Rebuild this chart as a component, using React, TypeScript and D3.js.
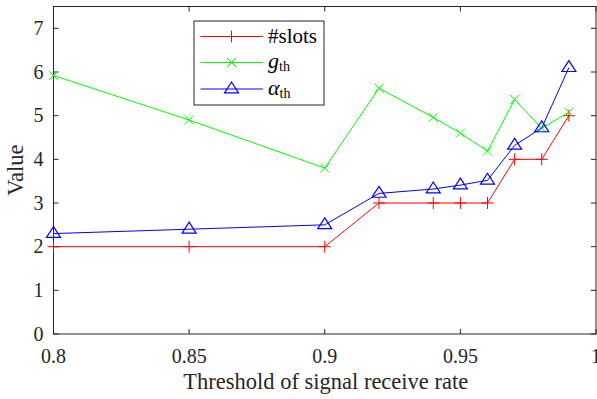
import React from "react";
import * as d3 from "d3";

const thresholds = [0.8, 0.85, 0.9, 0.92, 0.94, 0.95, 0.96, 0.97, 0.98, 0.99];
const slots = [2, 2, 2, 3, 3, 3, 3, 4, 4, 5];
const gTh = [5.92, 4.9, 3.8, 5.63, 4.96, 4.6, 4.19, 5.37, 4.71, 5.08];
const alphaTh = [2.3, 2.4, 2.5, 3.22, 3.32, 3.41, 3.52, 4.32, 4.72, 6.1];
const xTicks = [0.8, 0.85, 0.9, 0.95, 1];
const yTicks = [0, 1, 2, 3, 4, 5, 6, 7];

const W = 597, H = 399;
const M = { left: 53.5, right: 596, top: 6.5, bottom: 334 };
const FONT = '"Liberation Serif", "Times New Roman", "DejaVu Serif", serif';
const AX = "#262626";

const x = d3.scaleLinear().domain([0.8, 1]).range([M.left, M.right]);
const y = d3.scaleLinear().domain([0, 7.5]).range([M.bottom, M.top]);

const line = d3.line<number[]>();

function Plus({ cx, cy, c }: { cx: number; cy: number; c: string }) {
  const s = 6;
  return <path d={`M${cx - s},${cy}H${cx + s}M${cx},${cy - s}V${cy + s}`} stroke={c} strokeWidth={1} fill="none" />;
}
function Cross({ cx, cy, c }: { cx: number; cy: number; c: string }) {
  const s = 4.5;
  return <path d={`M${cx - s},${cy - s}L${cx + s},${cy + s}M${cx - s},${cy + s}L${cx + s},${cy - s}`} stroke={c} strokeWidth={1} fill="none" />;
}
function Tri({ cx, cy, c }: { cx: number; cy: number; c: string }) {
  const s = 7;
  return <path d={`M${cx},${cy - s}L${cx + s},${cy + s * 0.55}L${cx - s},${cy + s * 0.55}Z`} stroke={c} strokeWidth={1.2} fill="none" />;
}

const ts = { fontFamily: FONT };

export default function App() {
  const series = [
    { vals: slots, c: "#ff0000", M: Plus },
    { vals: gTh, c: "#00ff00", M: Cross },
    { vals: alphaTh, c: "#0000ff", M: Tri },
  ];
  const lx0 = 194, ly0 = 21, lw = 130, lh = 84;
  const rows = [36.5, 62.5, 89];
  return (
    <svg width={W} height={H} style={{ position: "absolute", left: 0, top: 0, background: "#fff", fontFamily: FONT }}>
      <rect x={0} y={0} width={W} height={H} fill="#fff" />
      <rect x={M.left} y={M.top} width={M.right - M.left} height={M.bottom - M.top} fill="none" stroke={AX} strokeWidth={1} />
      {xTicks.map((t) => (
        <g key={"x" + t}>
          <line x1={x(t)} x2={x(t)} y1={M.bottom} y2={M.bottom - 5} stroke={AX} />
          <line x1={x(t)} x2={x(t)} y1={M.top} y2={M.top + 5} stroke={AX} />
          <text x={x(t)} y={363} textAnchor="middle" fontSize={20} fill={AX} style={ts}>{String(t)}</text>
        </g>
      ))}
      {yTicks.map((t) => (
        <g key={"y" + t}>
          <line x1={M.left} x2={M.left + 5} y1={y(t)} y2={y(t)} stroke={AX} />
          <line x1={M.right} x2={M.right - 5} y1={y(t)} y2={y(t)} stroke={AX} />
          <text x={43.5} y={y(t) + 6.5} textAnchor="end" fontSize={20} fill={AX} style={ts}>{t}</text>
        </g>
      ))}
      <text x={(M.left + M.right) / 2 + 1} y={389} textAnchor="middle" fontSize={22.5} fill={AX} style={ts}>Threshold of signal receive rate</text>
      <text transform={`translate(23,${(M.top + M.bottom) / 2}) rotate(-90)`} textAnchor="middle" fontSize={22.5} fill={AX} style={ts}>Value</text>
      {series.map((s, i) => (
        <g key={i}>
          <path d={line(s.vals.map((v, j) => [x(thresholds[j]), y(v)])) || ""} stroke={s.c} strokeWidth={1} fill="none" />
          {s.vals.map((v, j) => (
            <s.M key={j} cx={x(thresholds[j])} cy={y(v)} c={s.c} />
          ))}
        </g>
      ))}
      <rect x={lx0} y={ly0} width={lw} height={lh} fill="#fff" stroke={AX} strokeWidth={1} />
      {series.map((s, i) => (
        <g key={"l" + i}>
          <line x1={200.5} x2={263} y1={rows[i]} y2={rows[i]} stroke={s.c} strokeWidth={1} />
          <s.M cx={231.5} cy={rows[i]} c={s.c} />
        </g>
      ))}
      <text x={268} y={rows[0] + 6.5} fontSize={21} fill="#000" style={ts}>#slots</text>
      <text x={268} y={rows[1] + 5.5} fontSize={21} fill="#000" style={ts}>
        <tspan fontStyle="italic" fontSize={22}>g</tspan>
        <tspan fontSize={14} dy={3}>th</tspan>
      </text>
      <text x={268} y={rows[2] + 5.5} fontSize={21} fill="#000" style={ts}>
        <tspan fontStyle="italic" fontSize={22}>α</tspan>
        <tspan fontSize={14} dy={3}>th</tspan>
      </text>
    </svg>
  );
}
